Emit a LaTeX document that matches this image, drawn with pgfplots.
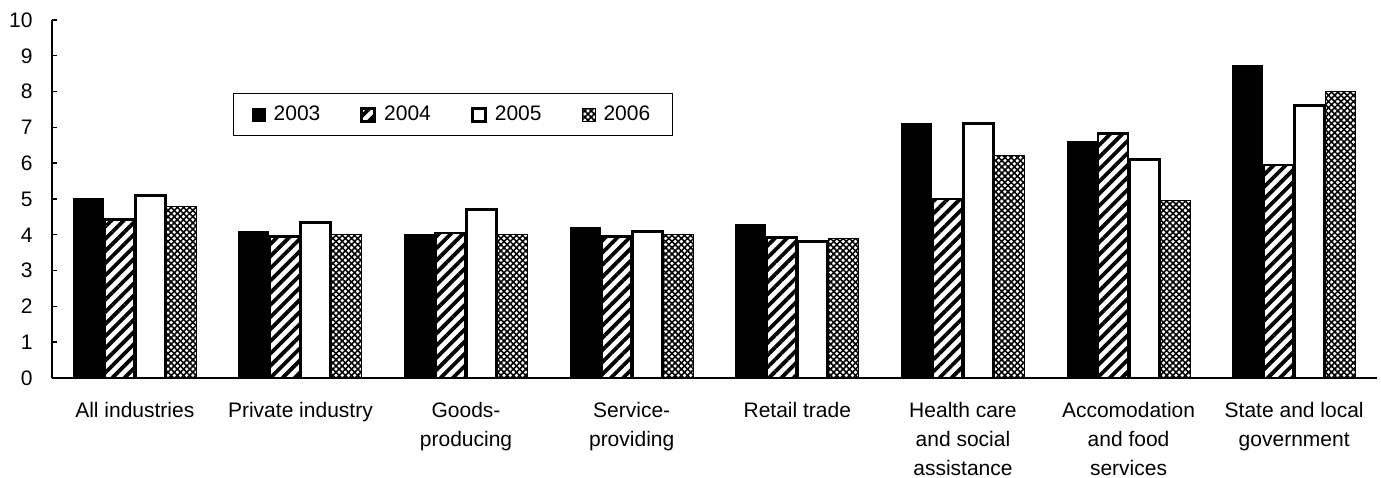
\documentclass[border=0pt]{standalone}
\usepackage{pgfplots}
\pgfplotsset{compat=1.18}
\usepackage{fontspec}
\setmainfont{Liberation Sans}
\usetikzlibrary{patterns.meta}
\begin{document}
\fontsize{10.5bp}{15bp}\selectfont
\begin{tikzpicture}
\useasboundingbox (0,0) rectangle (690.5bp,239bp);
\begin{axis}[
  at={(26bp,50bp)}, anchor=south west,
  scale only axis, width=662.5bp, height=179bp,
  xmin=-0.5, xmax=7.5, ymin=0, ymax=10,
  axis lines*=left,
  axis line style={line width=0.7bp,-},
  axis on top,
  ytick={0,1,...,10}, xtick={0,1,...,7},
  xticklabels={All industries, Private industry, Goods-\\producing, Service-\\providing, Retail trade, Health care\\and social\\assistance, Accomodation\\and food\\services, State and local\\government},
  ticklabel style={font=\fontsize{10.5bp}{14.4bp}\selectfont},
  x tick label style={align=center, yshift=-6bp},
  y tick label style={xshift=-6bp},
  major x tick style={draw=none},
  major y tick style={line width=0.7bp, black},
  tick align=inside, major tick length=2.5bp,
  /pgf/number format/assume math mode=true,
  ybar=0.5bp, bar width=15bp,
  legend columns=4,
  legend style={draw=black, line width=0.7bp, at={(0.1366,0.796)}, anchor=north west,
    inner xsep=9bp, inner ysep=4bp, font=\fontsize{10.5bp}{15bp}\selectfont,
    /tikz/every odd column/.append style={column sep=2bp},
    /tikz/every even column/.append style={column sep=18bp}},
  legend cell align=left,
  mylegend/.style={legend image code/.code={\draw[##1] (0bp,-3.25bp) rectangle (6.5bp,3.25bp);}},
]
\addplot[mylegend, fill=black, draw=black, line width=0.5bp]
  coordinates {(0,5.0) (1,4.08) (2,4.02) (3,4.2) (4,4.3) (5,7.1) (6,6.6) (7,8.72)};
\addplot[mylegend, draw=black, line width=1.4bp, pattern={Lines[angle=45,distance=4.3bp,line width=1.9bp]}, pattern color=black]
  coordinates {(0,4.42) (1,3.95) (2,4.05) (3,3.95) (4,3.93) (5,5.0) (6,6.83) (7,5.95)};
\addplot[mylegend, fill=white, draw=black, line width=1.5bp]
  coordinates {(0,5.1) (1,4.33) (2,4.7) (3,4.09) (4,3.82) (5,7.1) (6,6.11) (7,7.62)};
\addplot[mylegend, draw=black, line width=0.5bp, pattern={Lines[angle=45,distance=2.2bp,line width=0.8bp]}, pattern color=black,
  postaction={pattern={Lines[angle=-45,distance=2.2bp,line width=0.8bp]}, pattern color=black}]
  coordinates {(0,4.8) (1,4.02) (2,4.02) (3,4.02) (4,3.91) (5,6.21) (6,4.97) (7,8.01)};
\legend{2003,2004,2005,2006}
\end{axis}
\end{tikzpicture}
\end{document}
